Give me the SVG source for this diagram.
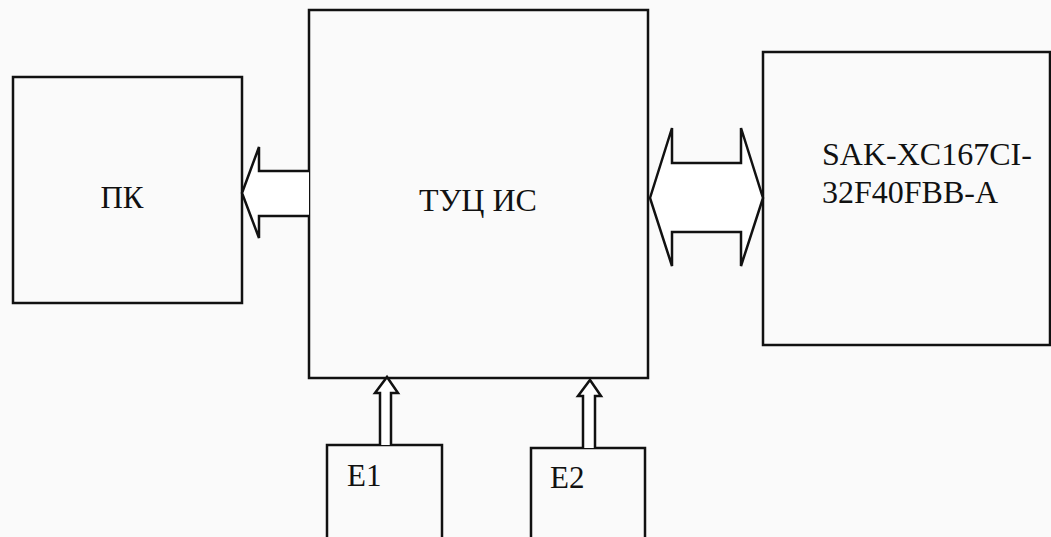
<svg xmlns="http://www.w3.org/2000/svg" width="1051" height="537" viewBox="0 0 1051 537">
<style>
.box{fill:none;stroke:#111;stroke-width:2.5}
.arr{fill:#fff;stroke:#111;stroke-width:2.5;stroke-linejoin:miter}
.t{font-family:'Liberation Serif','DejaVu Serif',serif;fill:#111}
</style>
<rect width="1051" height="537" fill="#fafafa"/>
<g id="pk"><rect class="box" x="13" y="77" width="229" height="226"/><text class="t" x="122" y="208" font-size="31" text-anchor="middle">ПК</text></g>
<g id="tuc"><rect class="box" x="309" y="10" width="339" height="368"/><text class="t" x="478" y="211" font-size="32" text-anchor="middle">ТУЦ ИС</text></g>
<g id="sak"><rect class="box" x="763" y="52" width="287" height="293"/><text class="t" x="822" y="165" font-size="32">SAK-XC167CI-</text><text class="t" x="822" y="203" font-size="32">32F40FBB-A</text></g>
<g id="e1"><rect class="box" x="327" y="445" width="115" height="100"/><text class="t" x="347" y="486" font-size="31">E1</text></g>
<g id="e2"><rect class="box" x="531" y="448" width="114" height="100"/><text class="t" x="550" y="488" font-size="31">E2</text></g>
<g id="connectors">
<path class="arr" d="M309,171 H259 V147 L242,193 L259,238 V216 H309"/>
<path class="arr" d="M650,198 L672,128 V163 H741 V128 L763,198 L741,266 V232 H672 V266 Z"/>
<path class="arr" d="M380,445 V393 H375 L387,377 L398,393 H391 V445"/>
<path class="arr" d="M583,448 V396 H578 L590,380 L601,396 H595 V448"/>
</g>
</svg>
